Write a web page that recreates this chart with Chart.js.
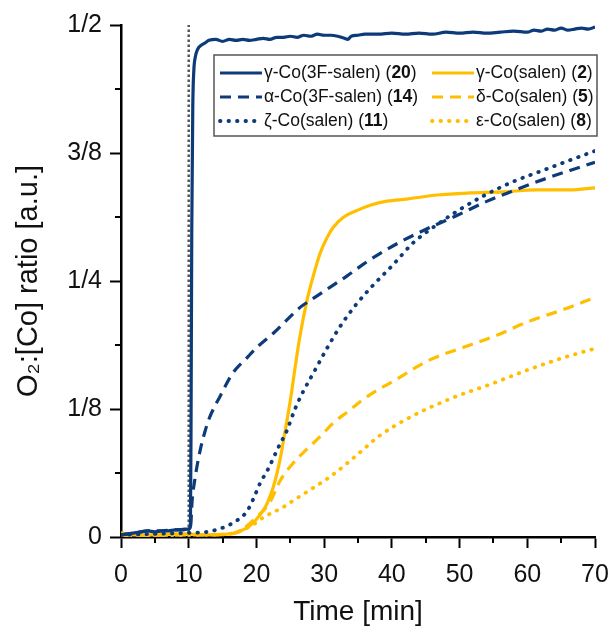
<!DOCTYPE html>
<html>
<head>
<meta charset="utf-8">
<script src="https://cdn.jsdelivr.net/npm/chart.js@4.4.1/dist/chart.umd.min.js"></script>
<style>
  html, body { margin: 0; padding: 0; background: #fff; }
  #wrap { width: 611px; height: 629px; }
</style>
</head>
<body>
<div id="wrap"><canvas id="chart" width="611" height="629"></canvas></div>
<script>
// O2 uptake traces, [time (min), O2:[Co] ratio]
const gamma3F = [[0,0.002],[1,0.003],[2,0.004],[3,0.005],[4,0.006],[5,0.005],[6,0.006],[7,0.006],[8,0.007],[9,0.007],[10,0.008],[10.25,0.01],[10.35,0.12],[10.45,0.30],[10.6,0.42],[10.75,0.455],[10.95,0.468],[11.3,0.476],[11.8,0.480],[12.3,0.482],[13,0.485],[14,0.486],[15,0.484],[16,0.486],[17,0.485],[18,0.486],[19,0.485],[20,0.486],[21,0.487],[22,0.486],[23,0.488],[24,0.488],[25,0.489],[26,0.488],[27,0.490],[28,0.489],[29,0.491],[30,0.490],[31,0.490],[32,0.489],[33,0.487],[33.5,0.486],[34,0.489],[35,0.490],[36,0.491],[38,0.491],[40,0.492],[42,0.491],[44,0.492],[46,0.491],[48,0.493],[50,0.492],[52,0.493],[54,0.492],[56,0.493],[58,0.494],[60,0.493],[61,0.495],[62,0.494],[63,0.496],[64,0.495],[65,0.497],[66,0.495],[67,0.496],[68,0.497],[69,0.496],[70,0.498]];
const alpha3F = [[0,0.002],[2,0.004],[4,0.006],[6,0.006],[8,0.007],[10,0.008],[10.3,0.012],[10.5,0.035],[10.9,0.056],[11.7,0.085],[12.4,0.103],[13.1,0.117],[14.6,0.137],[16.5,0.160],[18.6,0.175],[20.2,0.186],[22.5,0.199],[24.5,0.212],[26.4,0.224],[28.4,0.233],[30.9,0.244],[33.4,0.255],[35.7,0.266],[37.8,0.275],[41.2,0.288],[45.2,0.301],[49.6,0.314],[54.1,0.328],[57.9,0.338],[62.3,0.349],[66.3,0.358],[70,0.366]];
const zetaSalen = [[0,0.002],[5,0.003],[10,0.004],[12.7,0.005],[15,0.009],[17.3,0.017],[18.6,0.025],[19.6,0.038],[20.5,0.052],[21.7,0.066],[23.2,0.087],[24.5,0.104],[25.7,0.125],[26.9,0.142],[28.4,0.160],[30.4,0.184],[32.3,0.205],[34.6,0.226],[37.1,0.245],[40.2,0.266],[43.1,0.287],[45.6,0.300],[49.6,0.318],[53.5,0.333],[57.9,0.347],[62.3,0.358],[66.3,0.368],[70,0.377]];
const gammaSalen = [[0,0.004],[2,0.002],[5,0.002],[8,0.003],[10,0.003],[12,0.002],[14,0.002],[16,0.003],[17,0.004],[18,0.007],[18.6,0.009],[19.4,0.013],[20.1,0.018],[21,0.026],[21.6,0.033],[22.5,0.049],[23.5,0.076],[24.2,0.102],[25,0.133],[25.7,0.165],[26.4,0.195],[27.5,0.232],[28.4,0.255],[29.4,0.277],[30.4,0.292],[31.3,0.302],[32.8,0.312],[34.9,0.319],[36.8,0.324],[39.3,0.328],[42.2,0.330],[46.7,0.334],[51.6,0.336],[56.4,0.337],[61.4,0.339],[66.3,0.339],[70,0.341]];
const deltaSalen = [[0,0.001],[10,0.002],[16,0.003],[18,0.008],[20.1,0.020],[22,0.034],[23.5,0.055],[25.4,0.072],[27.5,0.086],[29.4,0.098],[31.3,0.111],[33.4,0.122],[35.7,0.134],[38,0.144],[40.2,0.152],[42.9,0.163],[45.6,0.173],[50.5,0.185],[55.5,0.197],[60.4,0.211],[65.3,0.222],[70,0.234]];
const epsSalen = [[0,0.001],[10,0.002],[16,0.003],[18,0.007],[19.5,0.012],[21,0.019],[23.9,0.029],[26,0.038],[28.4,0.048],[30.9,0.059],[33.4,0.072],[35.7,0.085],[38,0.098],[42.7,0.117],[49,0.136],[54.5,0.149],[60,0.163],[65.3,0.175],[70,0.184]];

// legend names: text before the bold number, the number itself
const names = ['γ-Co(3F-salen)', 'α-Co(3F-salen)', 'ζ-Co(salen)', 'γ-Co(salen)', 'δ-Co(salen)', 'ε-Co(salen)'];
const numbers = ['20', '14', '11', '2', '5', '8'];

const injectTime = [10, 10];
const injectLevel = [0, 0.5];

const yTickLabels = {0: '0', 2: '1/8', 4: '1/4', 6: '3/8', 8: '1/2'}; // key = value*16

const BLUE = '#0d3b7a';
const GOLD = '#ffbf00';
const FONT = "'Liberation Sans', Arial, sans-serif";
const SOLID = [], DASH = [11, 7], DOT = [0.5, 8];

function mk(i, pts, color, dash){
  return {
    label: names[i], num: numbers[i],
    data: pts.map(p => ({x: p[0], y: p[1]})),
    borderColor: color, borderWidth: dash === DOT ? 3.8 : 3.2, borderDash: dash,
    borderCapStyle: dash === DOT ? 'round' : 'butt',
    pointRadius: 0, fill: false, cubicInterpolationMode: 'monotone'
  };
}

const datasets = [
  mk(0, gamma3F, BLUE, SOLID),
  mk(1, alpha3F, BLUE, DASH),
  mk(2, zetaSalen, BLUE, DOT),
  mk(3, gammaSalen, GOLD, SOLID),
  mk(4, deltaSalen, GOLD, DASH),
  mk(5, epsSalen, GOLD, DOT),
  { label: 'inject', data: injectTime.map((t, i) => ({x: t, y: injectLevel[i]})),
    borderColor: '#555', borderWidth: 2.5, borderDash: [2.5, 2.5], pointRadius: 0, fill: false }
];

// minor ticks (half length) and the boxed legend with bold compound numbers
const extras = {
  id: 'extras',
  afterDraw(chart){
    const ctx = chart.ctx, xs = chart.scales.x, ys = chart.scales.y;
    const a = chart.chartArea;
    ctx.save();
    ctx.strokeStyle = '#000'; ctx.lineWidth = 2;
    for (let v = 5; v < 70; v += 10){
      const px = Math.round(xs.getPixelForValue(v));
      ctx.beginPath(); ctx.moveTo(px, a.bottom); ctx.lineTo(px, a.bottom + 6); ctx.stroke();
    }
    for (let k = 1; k < 8; k += 2){
      const py = Math.round(ys.getPixelForValue(k / 16));
      ctx.beginPath(); ctx.moveTo(a.left - 6, py); ctx.lineTo(a.left, py); ctx.stroke();
    }

    // legend
    const bx = 214, by = 55, bw = 383, bh = 81;
    ctx.fillStyle = '#fff'; ctx.fillRect(bx, by, bw, bh);
    ctx.strokeStyle = '#555'; ctx.lineWidth = 1.5; ctx.setLineDash([]);
    ctx.strokeRect(bx, by, bw, bh);
    const rows = [73, 97, 121];
    const cols = [220, 432];
    ctx.textBaseline = 'middle';
    for (let i = 0; i < 6; i++){
      const ds = chart.data.datasets[i];
      const x0 = cols[Math.floor(i / 3)], y0 = rows[i % 3];
      ctx.strokeStyle = ds.borderColor; ctx.lineWidth = ds.borderWidth;
      ctx.lineCap = ds.borderCapStyle; ctx.setLineDash(ds.borderDash);
      ctx.beginPath(); ctx.moveTo(x0, y0); ctx.lineTo(x0 + 42, y0); ctx.stroke();
      ctx.setLineDash([]);
      ctx.fillStyle = '#111';
      let tx = x0 + 44;
      const parts = [[ds.label + ' (', 'normal'], [ds.num, 'bold'], [')', 'normal']];
      parts.forEach(([s, w]) => {
        ctx.font = w + ' 17.5px ' + FONT;
        ctx.fillText(s, tx, y0);
        tx += ctx.measureText(s).width;
      });
    }
    ctx.restore();
  }
};

new Chart(document.getElementById('chart'), {
  type: 'line',
  data: { datasets },
  plugins: [extras],
  options: {
    responsive: false,
    animation: false,
    layout: { padding: { top: 25, right: 16, bottom: 0, left: 0 } },
    plugins: { legend: { display: false }, tooltip: { enabled: false } },
    scales: {
      x: {
        type: 'linear', min: 0, max: 70,
        afterFit(s){ s.height = 92; s.paddingRight = 0; s.paddingLeft = 0; },
        border: { color: '#000', width: 2.5 },
        grid: { drawOnChartArea: false, tickLength: 11, tickWidth: 2,
                tickColor: c => (c.tick && c.tick.value % 10 === 0) ? '#000' : 'rgba(0,0,0,0)' },
        ticks: { stepSize: 5, autoSkip: false, maxRotation: 0, padding: 12, color: '#111',
                 font: { family: FONT, size: 25 },
                 callback: v => v % 10 === 0 ? String(v) : '' },
        title: { display: true, text: 'Time [min]', color: '#111',
                 font: { family: FONT, size: 28 }, padding: { top: 4, bottom: 0 } }
      },
      y: {
        type: 'linear', min: 0, max: 0.5,
        afterFit(s){ s.width = 121; s.paddingTop = 0; s.paddingBottom = 0; },
        border: { color: '#000', width: 2.5 },
        grid: { drawOnChartArea: false, tickLength: 11, tickWidth: 2,
                tickColor: c => (c.tick && Math.round(c.tick.value * 16) % 2 === 0) ? '#000' : 'rgba(0,0,0,0)' },
        ticks: { stepSize: 0.0625, autoSkip: false, padding: 8, color: '#111',
                 font: { family: FONT, size: 25 },
                 callback: v => {
                   const k = Math.round(v * 16);
                   return (Math.abs(v * 16 - k) < 1e-6 && k % 2 === 0) ? yTickLabels[k] : '';
                 } },
        title: { display: true, text: 'O₂:[Co] ratio [a.u.]', color: '#111',
                 font: { family: FONT, size: 29 }, padding: { top: 12, bottom: 0 } }
      }
    }
  }
});
</script>
</body>
</html>
